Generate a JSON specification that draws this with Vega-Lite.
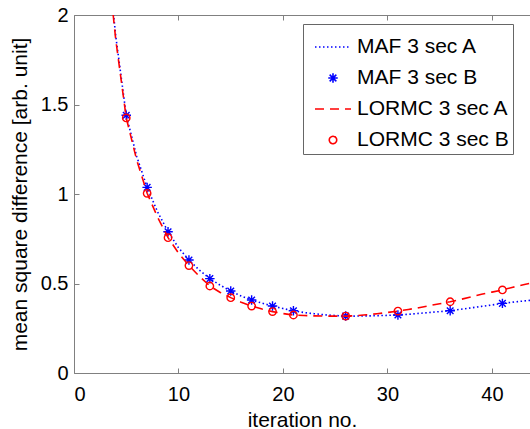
{
  "$schema": "https://vega.github.io/schema/vega-lite/v6.json",
  "width": 456,
  "height": 358,
  "autosize": {"type": "none"},
  "padding": {"left": 74, "top": 15, "right": 0, "bottom": 56},
  "background": "white",
  "datasets": {
    "lines": [
      {"x": 3, "y": 2.45, "series": "MAF 3 sec A"}, {"x": 4, "y": 1.88, "series": "MAF 3 sec A"}, {"x": 5, "y": 1.44, "series": "MAF 3 sec A"},
      {"x": 6, "y": 1.21, "series": "MAF 3 sec A"}, {"x": 7, "y": 1.037, "series": "MAF 3 sec A"}, {"x": 8, "y": 0.9, "series": "MAF 3 sec A"},
      {"x": 9, "y": 0.789, "series": "MAF 3 sec A"}, {"x": 10, "y": 0.7, "series": "MAF 3 sec A"}, {"x": 11, "y": 0.631, "series": "MAF 3 sec A"},
      {"x": 12, "y": 0.575, "series": "MAF 3 sec A"}, {"x": 13, "y": 0.527, "series": "MAF 3 sec A"}, {"x": 14, "y": 0.49, "series": "MAF 3 sec A"},
      {"x": 15, "y": 0.458, "series": "MAF 3 sec A"}, {"x": 16, "y": 0.43, "series": "MAF 3 sec A"}, {"x": 17, "y": 0.408, "series": "MAF 3 sec A"},
      {"x": 18, "y": 0.39, "series": "MAF 3 sec A"}, {"x": 19, "y": 0.374, "series": "MAF 3 sec A"}, {"x": 20, "y": 0.36, "series": "MAF 3 sec A"},
      {"x": 21, "y": 0.348, "series": "MAF 3 sec A"}, {"x": 22, "y": 0.338, "series": "MAF 3 sec A"}, {"x": 23, "y": 0.331, "series": "MAF 3 sec A"},
      {"x": 24, "y": 0.325, "series": "MAF 3 sec A"}, {"x": 25, "y": 0.321, "series": "MAF 3 sec A"}, {"x": 26, "y": 0.318, "series": "MAF 3 sec A"},
      {"x": 27, "y": 0.318, "series": "MAF 3 sec A"}, {"x": 28, "y": 0.319, "series": "MAF 3 sec A"}, {"x": 29, "y": 0.32, "series": "MAF 3 sec A"},
      {"x": 30, "y": 0.322, "series": "MAF 3 sec A"}, {"x": 31, "y": 0.324, "series": "MAF 3 sec A"}, {"x": 32, "y": 0.328, "series": "MAF 3 sec A"},
      {"x": 33, "y": 0.333, "series": "MAF 3 sec A"}, {"x": 34, "y": 0.338, "series": "MAF 3 sec A"}, {"x": 35, "y": 0.343, "series": "MAF 3 sec A"},
      {"x": 36, "y": 0.348, "series": "MAF 3 sec A"}, {"x": 37, "y": 0.356, "series": "MAF 3 sec A"}, {"x": 38, "y": 0.364, "series": "MAF 3 sec A"},
      {"x": 39, "y": 0.372, "series": "MAF 3 sec A"}, {"x": 40, "y": 0.38, "series": "MAF 3 sec A"}, {"x": 41, "y": 0.389, "series": "MAF 3 sec A"},
      {"x": 42, "y": 0.396, "series": "MAF 3 sec A"}, {"x": 43, "y": 0.402, "series": "MAF 3 sec A"}, {"x": 44, "y": 0.408, "series": "MAF 3 sec A"},
      {"x": 3, "y": 2.42, "series": "LORMC 3 sec A"}, {"x": 4, "y": 1.86, "series": "LORMC 3 sec A"}, {"x": 5, "y": 1.425, "series": "LORMC 3 sec A"},
      {"x": 6, "y": 1.19, "series": "LORMC 3 sec A"}, {"x": 7, "y": 1.004, "series": "LORMC 3 sec A"}, {"x": 8, "y": 0.87, "series": "LORMC 3 sec A"},
      {"x": 9, "y": 0.756, "series": "LORMC 3 sec A"}, {"x": 10, "y": 0.67, "series": "LORMC 3 sec A"}, {"x": 11, "y": 0.6, "series": "LORMC 3 sec A"},
      {"x": 12, "y": 0.54, "series": "LORMC 3 sec A"}, {"x": 13, "y": 0.486, "series": "LORMC 3 sec A"}, {"x": 14, "y": 0.45, "series": "LORMC 3 sec A"},
      {"x": 15, "y": 0.421, "series": "LORMC 3 sec A"}, {"x": 16, "y": 0.395, "series": "LORMC 3 sec A"}, {"x": 17, "y": 0.374, "series": "LORMC 3 sec A"},
      {"x": 18, "y": 0.357, "series": "LORMC 3 sec A"}, {"x": 19, "y": 0.343, "series": "LORMC 3 sec A"}, {"x": 20, "y": 0.332, "series": "LORMC 3 sec A"},
      {"x": 21, "y": 0.324, "series": "LORMC 3 sec A"}, {"x": 22, "y": 0.321, "series": "LORMC 3 sec A"}, {"x": 23, "y": 0.319, "series": "LORMC 3 sec A"},
      {"x": 24, "y": 0.318, "series": "LORMC 3 sec A"}, {"x": 25, "y": 0.318, "series": "LORMC 3 sec A"}, {"x": 26, "y": 0.318, "series": "LORMC 3 sec A"},
      {"x": 27, "y": 0.32, "series": "LORMC 3 sec A"}, {"x": 28, "y": 0.325, "series": "LORMC 3 sec A"}, {"x": 29, "y": 0.331, "series": "LORMC 3 sec A"},
      {"x": 30, "y": 0.338, "series": "LORMC 3 sec A"}, {"x": 31, "y": 0.346, "series": "LORMC 3 sec A"}, {"x": 32, "y": 0.355, "series": "LORMC 3 sec A"},
      {"x": 33, "y": 0.365, "series": "LORMC 3 sec A"}, {"x": 34, "y": 0.376, "series": "LORMC 3 sec A"}, {"x": 35, "y": 0.387, "series": "LORMC 3 sec A"},
      {"x": 36, "y": 0.398, "series": "LORMC 3 sec A"}, {"x": 37, "y": 0.411, "series": "LORMC 3 sec A"}, {"x": 38, "y": 0.425, "series": "LORMC 3 sec A"},
      {"x": 39, "y": 0.44, "series": "LORMC 3 sec A"}, {"x": 40, "y": 0.452, "series": "LORMC 3 sec A"}, {"x": 41, "y": 0.464, "series": "LORMC 3 sec A"},
      {"x": 42, "y": 0.479, "series": "LORMC 3 sec A"}, {"x": 43, "y": 0.493, "series": "LORMC 3 sec A"}, {"x": 44, "y": 0.505, "series": "LORMC 3 sec A"}
    ],
    "points": [
      {"x": 5, "y": 1.44, "series": "MAF 3 sec B"}, {"x": 7, "y": 1.037, "series": "MAF 3 sec B"}, {"x": 9, "y": 0.789, "series": "MAF 3 sec B"},
      {"x": 11, "y": 0.631, "series": "MAF 3 sec B"}, {"x": 13, "y": 0.527, "series": "MAF 3 sec B"}, {"x": 15, "y": 0.458, "series": "MAF 3 sec B"},
      {"x": 17, "y": 0.408, "series": "MAF 3 sec B"}, {"x": 19, "y": 0.374, "series": "MAF 3 sec B"}, {"x": 21, "y": 0.348, "series": "MAF 3 sec B"},
      {"x": 26, "y": 0.318, "series": "MAF 3 sec B"}, {"x": 31, "y": 0.324, "series": "MAF 3 sec B"}, {"x": 36, "y": 0.348, "series": "MAF 3 sec B"},
      {"x": 41, "y": 0.389, "series": "MAF 3 sec B"},
      {"x": 5, "y": 1.425, "series": "LORMC 3 sec B"}, {"x": 7, "y": 1.004, "series": "LORMC 3 sec B"}, {"x": 9, "y": 0.756, "series": "LORMC 3 sec B"},
      {"x": 11, "y": 0.6, "series": "LORMC 3 sec B"}, {"x": 13, "y": 0.486, "series": "LORMC 3 sec B"}, {"x": 15, "y": 0.421, "series": "LORMC 3 sec B"},
      {"x": 17, "y": 0.374, "series": "LORMC 3 sec B"}, {"x": 19, "y": 0.343, "series": "LORMC 3 sec B"}, {"x": 21, "y": 0.324, "series": "LORMC 3 sec B"},
      {"x": 26, "y": 0.318, "series": "LORMC 3 sec B"}, {"x": 31, "y": 0.346, "series": "LORMC 3 sec B"}, {"x": 36, "y": 0.398, "series": "LORMC 3 sec B"},
      {"x": 41, "y": 0.464, "series": "LORMC 3 sec B"}
    ]
  },
  "layer": [
    {
      "data": {"name": "lines"},
      "transform": [{"filter": "datum.series === 'MAF 3 sec A'"}],
      "mark": {"type": "line", "clip": true, "strokeWidth": 1.6, "strokeDash": [1.5, 2.5]},
      "encoding": {
        "x": {"field": "x", "type": "quantitative", "scale": {"domain": [0, 43.64], "nice": false, "zero": false},
              "axis": {"orient": "bottom", "values": [0, 10, 20, 30, 40], "title": "iteration no.", "labelPadding": 16, "titlePadding": 5}},
        "y": {"field": "y", "type": "quantitative", "scale": {"domain": [0, 2], "nice": false},
              "axis": {"values": [0, 0.5, 1, 1.5, 2], "labelExpr": "'' + datum.value", "title": "mean square difference [arb. unit]", "labelPadding": 11, "titlePadding": 10}},
        "color": {"field": "series", "type": "nominal",
                  "scale": {"domain": ["MAF 3 sec A", "MAF 3 sec B", "LORMC 3 sec A", "LORMC 3 sec B"], "range": ["#0000ff", "#0000ff", "#ff0000", "#ff0000"]},
                  "legend": {
                    "orient": "none", "legendX": 229, "legendY": 9, "title": null,
                    "strokeColor": "#666666", "fillColor": "white", "padding": 4,
                    "labelFontSize": 21, "labelFont": "Liberation Sans", "labelColor": "black", "labelOffset": 12,
                    "symbolSize": 100, "symbolType": "stroke", "symbolStrokeWidth": 1.6, "rowPadding": 2,
                    "encoding": {
                      "symbols": {
                        "x": {"value": 26},
                        "shape": {"value": {"expr": "datum.value === 'MAF 3 sec B' ? 'M0,-1L0,1M-1,0L1,0M-0.7,-0.7L0.7,0.7M-0.7,0.7L0.7,-0.7' : datum.value === 'LORMC 3 sec B' ? 'circle' : 'stroke'"}},
                        "size": {"value": {"expr": "datum.value === 'MAF 3 sec B' ? 90 : datum.value === 'LORMC 3 sec B' ? 55 : 1296"}},
                        "strokeDash": {"value": {"expr": "datum.value === 'MAF 3 sec A' ? [1.5, 2.5] : datum.value === 'LORMC 3 sec A' ? [9, 6] : [1, 0]"}},
                        "fill": {"value": "transparent"}
                      }
                    }
                  }}
      }
    },
    {
      "data": {"name": "points"},
      "transform": [{"filter": "datum.series === 'MAF 3 sec B'"}],
      "mark": {"type": "point", "filled": false, "strokeWidth": 1.4, "opacity": 1, "size": 90,
               "shape": "M0,-1L0,1M-1,0L1,0M-0.7,-0.7L0.7,0.7M-0.7,0.7L0.7,-0.7"},
      "encoding": {
        "x": {"field": "x", "type": "quantitative", "axis": {"orient": "top", "labels": false, "title": null, "values": [0, 10, 20, 30, 40]}},
        "y": {"field": "y", "type": "quantitative"},
        "color": {"field": "series", "type": "nominal"}
      }
    },
    {
      "data": {"name": "lines"},
      "transform": [{"filter": "datum.series === 'LORMC 3 sec A'"}],
      "mark": {"type": "line", "clip": true, "strokeWidth": 1.6, "strokeDash": [9, 6]},
      "encoding": {
        "x": {"field": "x", "type": "quantitative", "axis": null},
        "y": {"field": "y", "type": "quantitative"},
        "color": {"field": "series", "type": "nominal"}
      }
    },
    {
      "data": {"name": "points"},
      "transform": [{"filter": "datum.series === 'LORMC 3 sec B'"}],
      "mark": {"type": "point", "shape": "circle", "filled": false, "strokeWidth": 1.4, "opacity": 1, "size": 55},
      "encoding": {
        "x": {"field": "x", "type": "quantitative", "axis": null},
        "y": {"field": "y", "type": "quantitative"},
        "color": {"field": "series", "type": "nominal"}
      }
    }
  ],
  "resolve": {"axis": {"x": "independent"}},
  "config": {
    "view": {"stroke": null},
    "axis": {
      "domainColor": "#808080", "tickColor": "#808080", "tickSize": -5, "grid": false,
      "labelColor": "black", "titleColor": "black",
      "labelFont": "Liberation Sans", "titleFont": "Liberation Sans",
      "labelFontSize": 20, "titleFontSize": 21, "titleFontWeight": "normal"
    }
  }
}
